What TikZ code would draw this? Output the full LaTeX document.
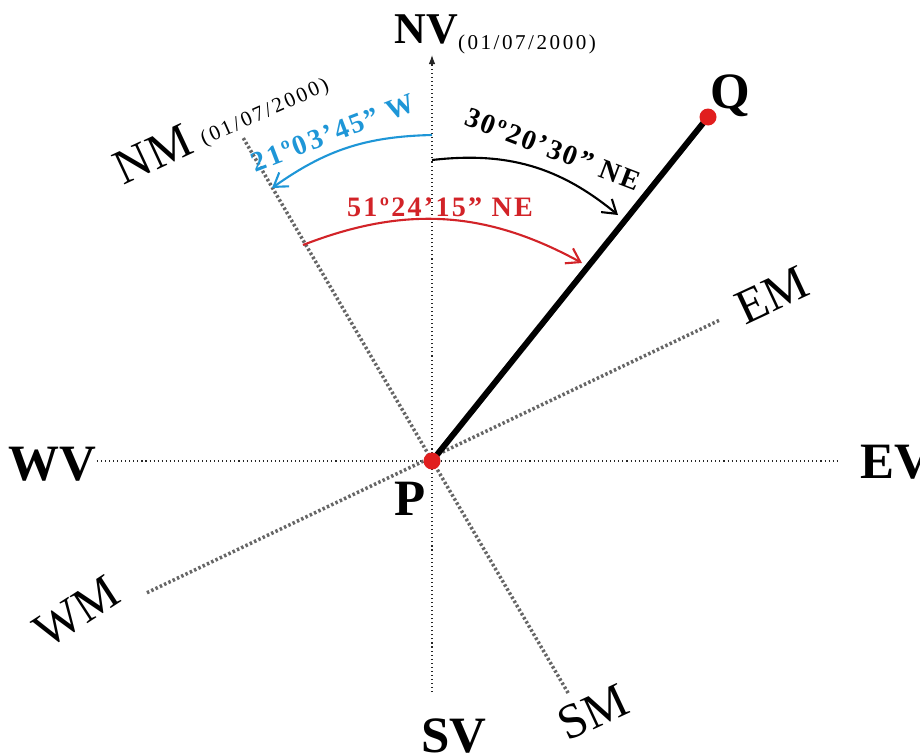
\documentclass[tikz,border=0pt]{standalone}
\usepackage{fontspec}
\setmainfont{Liberation Serif}
\newfontfamily\anglefont[LetterSpace=8]{Liberation Serif}
\newfontfamily\datefont[LetterSpace=12]{Liberation Serif}
\usetikzlibrary{arrows.meta, positioning, calc}
\definecolor{westblue}{RGB}{30,150,215}
\definecolor{eastred}{RGB}{210,35,40}
\definecolor{pointred}{RGB}{225,30,30}

\begin{document}
\begin{tikzpicture}[
    every node/.style={inner sep=0pt, outer sep=0pt},
    trueaxis/.style={black!85, line width=0.6pt, dash pattern=on 0.6pt off 1.7pt},
    magaxis/.style={black!60, line width=2pt, dash pattern=on 1.4pt off 1.3pt},
    anglearc/.style={line width=1.2pt, -{Straight Barb[length=2.6mm,width=3.4mm]}},
    bigbold/.style={font=\fontsize{29}{31}\selectfont\bfseries},
    bigplain/.style={font=\fontsize{28}{30}\selectfont},
    datelabel/.style={font=\datefont\fontsize{12}{14}\selectfont},
    anglelabel/.style={font=\anglefont\fontsize{16}{18}\selectfont\bfseries},
    pointdot/.style={circle, fill=pointred, minimum size=3.4mm}
  ]

    \useasboundingbox (-8.64,-5.84) rectangle (9.76,9.22);

    % Points and axis ends
    \coordinate (P) at (0,0);
    \coordinate (Q) at (5.52,6.88);
    \coordinate (nvend) at (0,8.12);
    \coordinate (svend) at (0,-4.62);
    \coordinate (wvend) at (-6.70,0);
    \coordinate (evend) at (8.12,0);
    \coordinate (nmend) at (120.3:7.48);
    \coordinate (smend) at (-59.6:5.38);
    \coordinate (emend) at (26.1:6.41);
    \coordinate (wmend) at (204.8:6.28);

    % True (geographic) axes
    \draw[trueaxis, -{Latex[length=1.8mm,width=1.3mm]}] (svend) -- (nvend);
    \draw[trueaxis] (wvend) -- (evend);

    % Magnetic axes
    \draw[magaxis] (smend) -- (nmend);
    \draw[magaxis] (wmend) -- (emend);

    % Line P-Q
    \draw[line width=3.4pt] (P) -- (Q);
    \node[pointdot] (p) at (P) {};
    \node[pointdot] (q) at (Q) {};

    % Angle arcs
    \coordinate (bluestart) at (0,6.52);
    \coordinate (blueend) at (-3.2,5.46);
    \coordinate (blackstart) at (0,6.02);
    \coordinate (blackend) at (3.72,4.92);
    \coordinate (redstart) at (-2.58,4.32);
    \coordinate (redend) at (3.0,3.96);
    \draw[anglearc, westblue] (bluestart) to[bend right=17] (blueend);
    \draw[anglearc] (blackstart) to[bend left=23] (blackend);
    \draw[anglearc, eastred] (redstart) to[bend left=25] (redend);

    % Angle labels
    \node[anglelabel, westblue, rotate=21] (westangle) at (-1.98,6.56) {21º03’45” W};
    \node[anglelabel, rotate=-21] (pathangle) at (2.42,6.24) {30º20’30” NE};
    \node[anglelabel, eastred] (eastangle) at (0.16,5.08) {51º24’15” NE};

    % Direction labels
    \node[bigbold, font=\fontsize{25}{27}\selectfont\bfseries, anchor=base east] (nv) at (0.52,8.36) {NV};
    \node[datelabel, anchor=base west] (nvdate) at ($(nv.base east)+(0,-0.14)$) {(01/07/2000)};
    \node[bigbold, anchor=base] (wv) at (-7.59,-0.38) {WV};
    \node[bigbold, anchor=base west] (ev) at (8.56,-0.34) {EV};
    \node[bigbold, anchor=base] (sv) at (0.44,-5.82) {SV};
    \node[bigbold, anchor=base] (plabel) at (-0.44,-1.08) {P};
    \node[bigbold, anchor=base] (qlabel) at (5.97,7.06) {Q};

    \node[bigplain, rotate=25] (nm) at (-5.58,6.14) {NM};
    \node[datelabel, rotate=24] (nmdate) at (-3.34,6.96) {(01/07/2000)};
    \node[bigplain, rotate=25] (em) at (6.8,3.32) {EM};
    \node[bigplain, rotate=33] (wm) at (-7.1,-3.02) {WM};
    \node[bigplain, rotate=25] (sm) at (3.22,-5.02) {SM};

  \end{tikzpicture}
\end{document}
